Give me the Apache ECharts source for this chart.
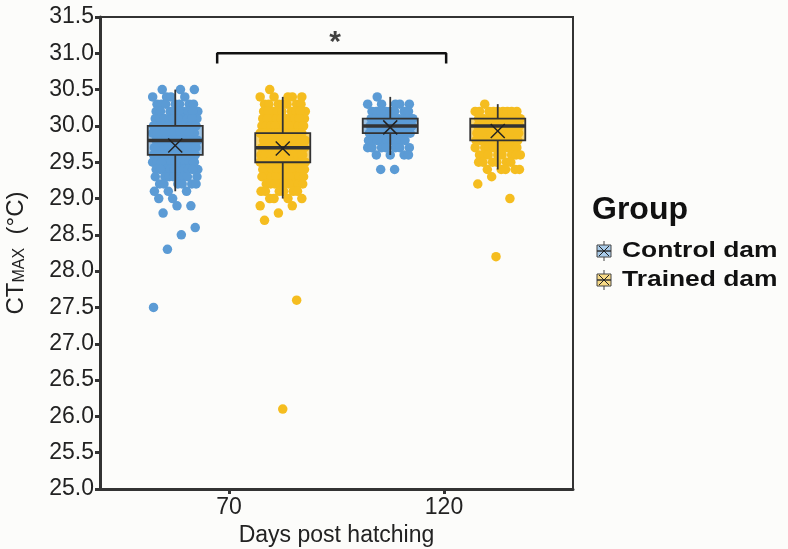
<!DOCTYPE html>
<html>
<head>
<meta charset="utf-8">
<script src="https://cdn.jsdelivr.net/npm/echarts@6/dist/echarts.min.js"></script>
<style>
  html, body { margin: 0; padding: 0; background: #fcfcfa; }
  #chart { width: 788px; height: 549px; }
</style>
</head>
<body>
<div id="chart"></div>
<script>
// CTmax by age and dam group, box + jittered dots
const days = ['70', '120'];
const groups = ['Control dam', 'Trained dam'];
const colors = ['#5b9bd5', '#f5bd1f'];
const legendFill = ['#a9cbe9', '#f8da86'];

// temperature levels (°C) and how many fish sit on each level
const ctrl70Temp = [30.5, 30.4, 30.3, 30.2, 30.1, 30.0, 29.9, 29.8, 29.7, 29.6, 29.5, 29.4, 29.3, 29.2, 29.1, 29.0, 28.9, 28.8, 28.6, 28.5, 28.3, 27.5];
const ctrl70N    = [3, 4, 7, 9, 11, 14, 14, 16, 14, 14, 12, 10, 8, 6, 3, 2, 2, 1, 1, 1, 1, 1];
const trained70Temp = [30.5, 30.4, 30.3, 30.2, 30.1, 30.0, 29.9, 29.8, 29.7, 29.6, 29.5, 29.4, 29.3, 29.2, 29.1, 29.0, 28.9, 28.8, 28.7, 27.6, 26.1];
const trained70N    = [1, 5, 7, 9, 11, 14, 14, 16, 16, 15, 14, 12, 10, 9, 6, 4, 2, 1, 1, 1, 1];
const ctrl120Temp = [30.4, 30.3, 30.2, 30.1, 30.0, 29.9, 29.8, 29.7, 29.6, 29.4];
const ctrl120N    = [1, 5, 8, 10, 11, 10, 9, 7, 4, 2];
const trained120Temp = [30.3, 30.2, 30.1, 30.0, 29.9, 29.8, 29.7, 29.6, 29.5, 29.4, 29.3, 29.2, 29.0, 28.2];
const trained120N    = [1, 9, 10, 11, 10, 10, 9, 8, 6, 5, 1, 1, 1, 1];

// box stats: [lower whisker, Q1, median, Q3, upper whisker, mean]
const ctrl70Box = [29.1, 29.6, 29.8, 30.0, 30.5, 29.73];
const trained70Box = [29.0, 29.5, 29.7, 29.9, 30.4, 29.69];
const ctrl120Box = [29.6, 29.9, 30.0, 30.1, 30.4, 29.98];
const trained120Box = [29.4, 29.8, 30.0, 30.1, 30.3, 29.93];

// significance bracket between 70 and 120
const bracketX = [0.945, 0.945, 2.01, 2.01];
const bracketY = [30.86, 31.0, 31.0, 30.86];

const dodge = [-0.25, 0.25];

// spread the dots of one level across the box width (fixed pattern, no randomness)
function spread(center, temps, counts) {
  const pts = [];
  let n = 0;
  temps.forEach((t, k) => {
    for (let i = 0; i < counts[k]; i++) {
      const f = ((n * 37 + 11) % 53) / 52;
      pts.push([center + (f * 2 - 1) * 0.105, t]);
      n++;
    }
  });
  return pts;
}

const dots = [
  spread(1 + dodge[0], ctrl70Temp, ctrl70N).concat(spread(2 + dodge[0], ctrl120Temp, ctrl120N)),
  spread(1 + dodge[1], trained70Temp, trained70N).concat(spread(2 + dodge[1], trained120Temp, trained120N))
];
const boxes = [
  [[1 + dodge[0]].concat(ctrl70Box), [2 + dodge[0]].concat(ctrl120Box)],
  [[1 + dodge[1]].concat(trained70Box), [2 + dodge[1]].concat(trained120Box)]
];

function renderBox(color) {
  return function (params, api) {
    const x = api.value(0);
    const lo = api.coord([x, api.value(1)]);
    const q1 = api.coord([x, api.value(2)]);
    const md = api.coord([x, api.value(3)]);
    const q3 = api.coord([x, api.value(4)]);
    const hi = api.coord([x, api.value(5)]);
    const mn = api.coord([x, api.value(6)]);
    const hw = api.size([0.128, 0])[0];
    const dark = '#333';
    return {
      type: 'group',
      children: [
        { type: 'line', shape: { x1: hi[0], y1: hi[1], x2: q3[0], y2: q3[1] }, style: { stroke: dark, lineWidth: 1.8 } },
        { type: 'line', shape: { x1: q1[0], y1: q1[1], x2: lo[0], y2: lo[1] }, style: { stroke: dark, lineWidth: 1.8 } },
        { type: 'rect', shape: { x: q3[0] - hw, y: q3[1], width: hw * 2, height: q1[1] - q3[1] },
          style: { fill: color, stroke: dark, lineWidth: 1.8 } },
        { type: 'line', shape: { x1: md[0] - hw, y1: md[1], x2: md[0] + hw, y2: md[1] }, style: { stroke: dark, lineWidth: 3.5 } },
        { type: 'line', shape: { x1: mn[0] - 7, y1: mn[1] - 7, x2: mn[0] + 7, y2: mn[1] + 7 }, style: { stroke: '#222', lineWidth: 1.5 } },
        { type: 'line', shape: { x1: mn[0] - 7, y1: mn[1] + 7, x2: mn[0] + 7, y2: mn[1] - 7 }, style: { stroke: '#222', lineWidth: 1.5 } }
      ]
    };
  };
}

const font = '"Liberation Sans", Arial, sans-serif';
const chart = echarts.init(document.getElementById('chart'));

const series = [];
groups.forEach((g, i) => {
  series.push({
    name: g,
    type: 'scatter',
    data: dots[i],
    symbolSize: 9.5,
    itemStyle: { color: colors[i], opacity: 1, borderWidth: 0 },
    z: 2,
    silent: true
  });
});
groups.forEach((g, i) => {
  series.push({
    name: g + ' box',
    type: 'custom',
    data: boxes[i],
    renderItem: renderBox(echarts.color.modifyAlpha(colors[i], 0.6)),
    z: 3,
    silent: true
  });
});
series.push({
  type: 'line',
  data: bracketX.map((x, k) => [x, bracketY[k]]),
  symbol: 'none',
  lineStyle: { color: '#111', width: 2.5 },
  z: 4,
  silent: true
});
series.push({
  type: 'scatter',
  data: [[1.493, 31.15]],
  symbolSize: 1,
  itemStyle: { color: 'transparent' },
  label: { show: true, formatter: '*', position: 'inside', fontSize: 30, fontWeight: 'bold', color: '#111', fontFamily: font },
  z: 4,
  silent: true
});

const legendItems = [];
groups.forEach((g, i) => {
  const cy = 251 + i * 29;
  const cx = 604;
  legendItems.push(
    { type: 'line', shape: { x1: cx, y1: cy - 10, x2: cx, y2: cy + 10 }, style: { stroke: '#444', lineWidth: 1 } },
    { type: 'rect', shape: { x: cx - 7, y: cy - 6, width: 14, height: 12 }, style: { fill: legendFill[i], stroke: '#444', lineWidth: 1 } },
    { type: 'line', shape: { x1: cx - 7, y1: cy, x2: cx + 7, y2: cy }, style: { stroke: '#333', lineWidth: 1.5 } },
    { type: 'line', shape: { x1: cx - 5, y1: cy - 5, x2: cx + 5, y2: cy + 5 }, style: { stroke: '#222', lineWidth: 1 } },
    { type: 'line', shape: { x1: cx - 5, y1: cy + 5, x2: cx + 5, y2: cy - 5 }, style: { stroke: '#222', lineWidth: 1 } },
    { type: 'text', x: 622, y: cy, scaleX: 1.2,
      style: { text: g, font: 'bold 22px ' + font, fill: '#111', verticalAlign: 'middle' } }
  );
});

const option = {
  backgroundColor: '#fcfcfa',
  animation: false,
  grid: {
    left: 100, right: 215, top: 17, bottom: 60,
    containLabel: false,
    outerBoundsMode: 'none',
    show: true, borderColor: '#333', borderWidth: 2
  },
  xAxis: {
    type: 'value',
    min: 0.4,
    max: 2.6,
    name: 'Days post hatching',
    nameLocation: 'middle',
    nameGap: 34,
    nameTextStyle: { fontSize: 23, color: '#222', fontFamily: font },
    axisLine: { lineStyle: { color: '#333', width: 3 } },
    axisTick: { customValues: [1, 2], length: 5, lineStyle: { color: '#333', width: 3 } },
    axisLabel: {
      customValues: [1, 2],
      formatter: v => days[Math.round(v) - 1],
      fontSize: 23, color: '#222', fontFamily: font, margin: 7
    },
    splitLine: { show: false }
  },
  yAxis: {
    type: 'value',
    min: 25,
    max: 31.5,
    interval: 0.5,
    name: '{n|CT}{s|MAX}{n|  (°C)}',
    nameLocation: 'middle',
    nameGap: 72,
    nameTextStyle: {
      rich: {
        n: { fontSize: 24, color: '#222', fontFamily: font },
        s: { fontSize: 16, color: '#222', fontFamily: font, padding: [8, 0, 0, 0] }
      }
    },
    axisLine: { show: true, lineStyle: { color: '#333', width: 3 } },
    axisTick: { show: true, length: 5, lineStyle: { color: '#333', width: 3 } },
    axisLabel: {
      formatter: v => v.toFixed(1),
      fontSize: 23, color: '#222', fontFamily: font, margin: 6
    },
    splitLine: { show: false }
  },
  graphic: [
    { type: 'text', left: 592, top: 194, style: { text: 'Group', font: 'bold 32px ' + font, fill: '#111' } }
  ].concat(legendItems),
  series: series
};

chart.setOption(option);
</script>
</body>
</html>
